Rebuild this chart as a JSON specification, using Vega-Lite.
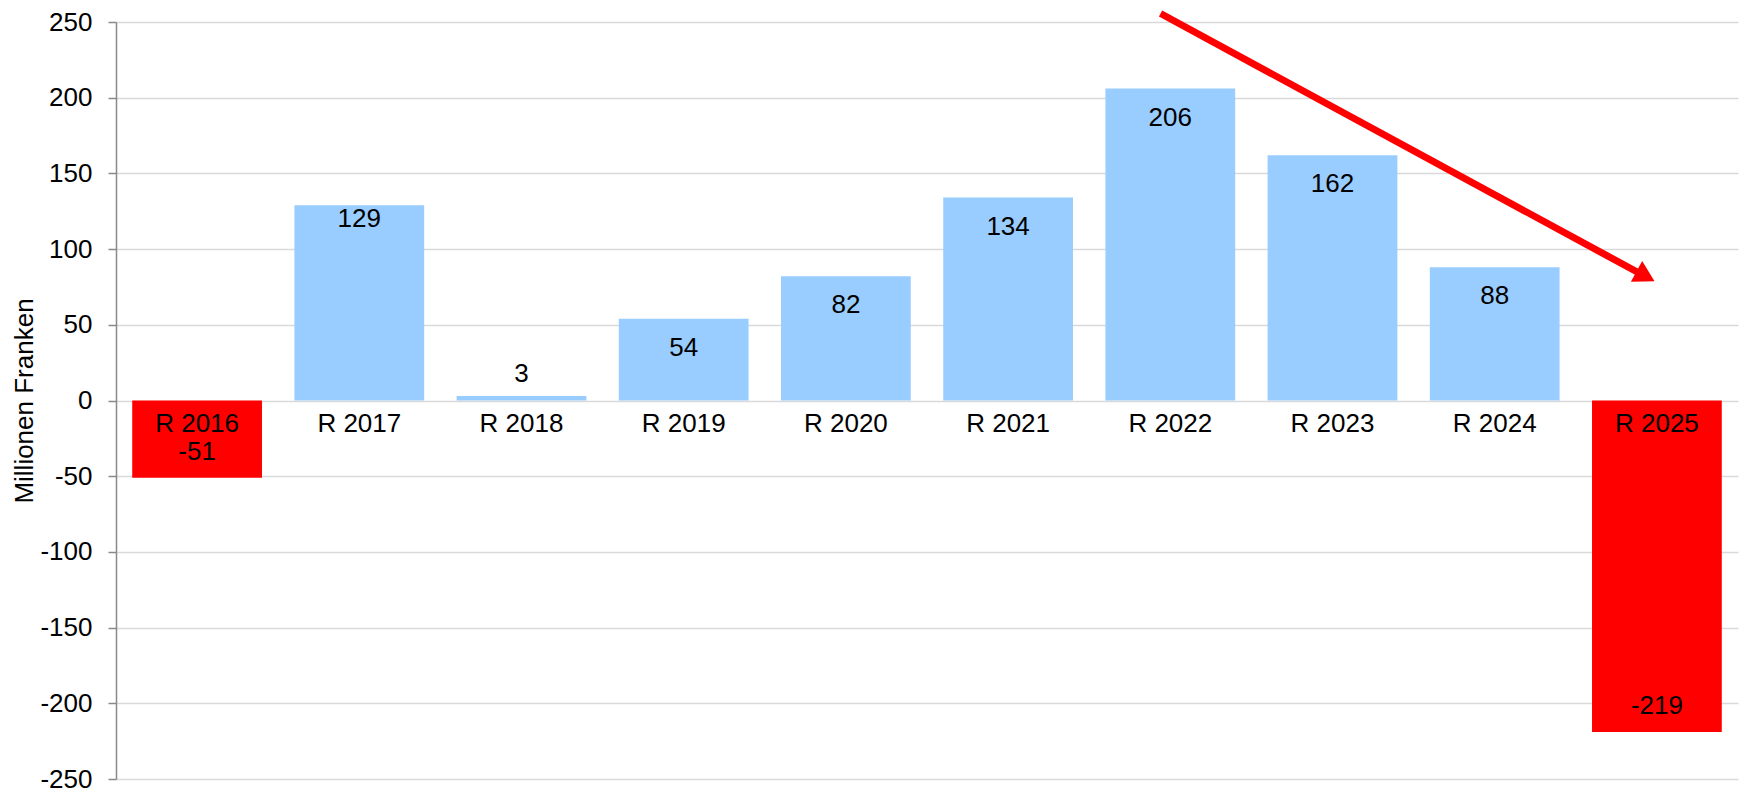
{
  "$schema": "https://vega.github.io/schema/vega-lite/v6.json",
  "autosize": {"type": "none"},
  "width": 1622,
  "height": 757,
  "padding": {"left": 116, "top": 22, "right": 2, "bottom": 10},
  "background": "white",
  "config": {
    "view": {"stroke": null},
    "font": "Liberation Sans",
    "text": {"font": "Liberation Sans", "fontSize": 26, "color": "black"}
  },
  "datasets": {
    "bars": [
      {"cat": "R 2016", "value": -51},
      {"cat": "R 2017", "value": 129},
      {"cat": "R 2018", "value": 3},
      {"cat": "R 2019", "value": 54},
      {"cat": "R 2020", "value": 82},
      {"cat": "R 2021", "value": 134},
      {"cat": "R 2022", "value": 206},
      {"cat": "R 2023", "value": 162},
      {"cat": "R 2024", "value": 88},
      {"cat": "R 2025", "value": -219}
    ],
    "arrow": [
      {"x": 6.44, "y": 255.6, "x2": 9.39, "y2": 84.2}
    ],
    "head": [
      {"x": 9.43, "y": 82}
    ]
  },
  "layer": [
    {
      "data": {"name": "bars"},
      "encoding": {
        "x": {
          "field": "cat", "type": "nominal", "sort": null,
          "scale": {"paddingInner": 0.2, "paddingOuter": 0.1},
          "axis": null
        }
      },
      "layer": [
        {
          "mark": {"type": "bar"},
          "encoding": {
            "y": {
              "field": "value", "type": "quantitative",
              "scale": {"domain": [-250, 250], "nice": false, "zero": true},
              "axis": {
                "values": [-250, -200, -150, -100, -50, 0, 50, 100, 150, 200, 250],
                "labelExpr": "replace(datum.label, '\u2212', '-')",
                "title": "Millionen Franken",
                "titleFont": "Liberation Sans",
                "titleFontSize": 26,
                "titleFontWeight": "normal",
                "titleColor": "black",
                "titlePadding": 2,
                "labelFont": "Liberation Sans",
                "labelFontSize": 26,
                "labelColor": "black",
                "labelPadding": 16,
                "tickSize": 8,
                "tickColor": "#898989",
                "tickWidth": 1.5,
                "domainColor": "#898989",
                "domainWidth": 1.5,
                "gridColor": "#D9D9D9",
                "gridWidth": 1.5
              }
            },
            "color": {
              "condition": {"test": "datum.value < 0", "value": "#FF0000"},
              "value": "#99CCFF"
            }
          }
        },
        {
          "mark": {"type": "text", "baseline": "middle", "dy": 23},
          "encoding": {
            "y": {"datum": 0, "type": "quantitative"},
            "text": {"field": "cat"}
          }
        },
        {
          "transform": [{"filter": "datum.value > 10 && datum.cat != 'R 2017'"}],
          "mark": {"type": "text", "baseline": "middle", "dy": 29},
          "encoding": {
            "y": {"field": "value", "type": "quantitative"},
            "text": {"field": "value"}
          }
        },
        {
          "transform": [{"filter": "datum.cat == 'R 2017'"}],
          "mark": {"type": "text", "baseline": "middle", "dy": 14},
          "encoding": {
            "y": {"field": "value", "type": "quantitative"},
            "text": {"field": "value"}
          }
        },
        {
          "transform": [{"filter": "datum.value >= 0 && datum.value <= 10"}],
          "mark": {"type": "text", "baseline": "middle", "dy": -22},
          "encoding": {
            "y": {"field": "value", "type": "quantitative"},
            "text": {"field": "value"}
          }
        },
        {
          "transform": [{"filter": "datum.value < 0"}],
          "mark": {"type": "text", "baseline": "middle", "dy": -26},
          "encoding": {
            "y": {"field": "value", "type": "quantitative"},
            "text": {"field": "value"}
          }
        }
      ]
    },
    {
      "layer": [
        {
          "data": {"name": "arrow"},
          "mark": {"type": "rule", "color": "#FF0000", "strokeWidth": 7},
          "encoding": {
            "x": {"field": "x", "type": "quantitative", "scale": {"domain": [0, 10], "nice": false}, "axis": null},
            "x2": {"field": "x2"},
            "y": {"field": "y", "type": "quantitative"},
            "y2": {"field": "y2"}
          }
        },
        {
          "data": {"name": "head"},
          "mark": {"type": "point", "shape": "triangle-up", "filled": true, "color": "#FF0000", "opacity": 1, "size": 560, "angle": 118.5},
          "encoding": {
            "x": {"field": "x", "type": "quantitative", "scale": {"domain": [0, 10], "nice": false}, "axis": null},
            "y": {"field": "y", "type": "quantitative"}
          }
        }
      ]
    }
  ],
  "resolve": {"scale": {"x": "independent"}}
}
